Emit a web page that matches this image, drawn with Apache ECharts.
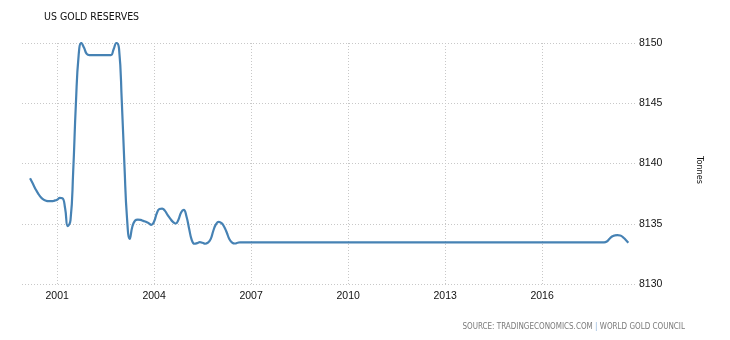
<!DOCTYPE html>
<html><head><meta charset="utf-8">
<script src="https://cdn.jsdelivr.net/npm/echarts@6/dist/echarts.min.js"></script>
<style>html,body{margin:0;padding:0;background:#fff}#c{width:730px;height:340px}</style>
</head><body><div id="c"></div>
<script>
const chartTitle = 'US GOLD RESERVES';
const unitName = 'Tonnes';
const sourceLeft = 'SOURCE: TRADINGECONOMICS.COM';
const sourceRight = 'WORLD GOLD COUNCIL';
const firstMonth = '2000-03';
const lastMonth = '2018-09';
// monthly values, Mar 2000 .. Sep 2018 (one row per year)
const reserves = [
  8138.77, 8138.33, 8137.89, 8137.5, 8137.2, 8137.0, 8136.9, 8136.87, 8136.87, 8136.92,
  8137.0, 8137.14, 8137.12, 8136.29, 8134.8, 8135.3, 8139.3, 8145.0, 8149.0, 8150.0, 8149.6, 8149.1,
  8149.0, 8149.0, 8149.0, 8149.0, 8149.0, 8149.0, 8149.0, 8149.0, 8149.0, 8149.48, 8150.0, 8149.53,
  8145.2, 8139.7, 8135.5, 8133.75, 8134.77, 8135.27, 8135.35, 8135.32, 8135.24, 8135.16, 8135.05, 8134.91,
  8135.18, 8135.87, 8136.23, 8136.26, 8136.09, 8135.74, 8135.43, 8135.16, 8135.02, 8135.32, 8135.93, 8136.15,
  8135.6, 8134.55, 8133.67, 8133.34, 8133.39, 8133.48, 8133.42, 8133.34, 8133.44, 8133.72, 8134.44, 8134.97,
  8135.16, 8135.05, 8134.77, 8134.27, 8133.72, 8133.44, 8133.36, 8133.42, 8133.46, 8133.46, 8133.46, 8133.46,
  8133.46, 8133.46, 8133.46, 8133.46, 8133.46, 8133.46, 8133.46, 8133.46, 8133.46, 8133.46, 8133.46, 8133.46,
  8133.46, 8133.46, 8133.46, 8133.46, 8133.46, 8133.46, 8133.46, 8133.46, 8133.46, 8133.46, 8133.46, 8133.46,
  8133.46, 8133.46, 8133.46, 8133.46, 8133.46, 8133.46, 8133.46, 8133.46, 8133.46, 8133.46, 8133.46, 8133.46,
  8133.46, 8133.46, 8133.46, 8133.46, 8133.46, 8133.46, 8133.46, 8133.46, 8133.46, 8133.46, 8133.46, 8133.46,
  8133.46, 8133.46, 8133.46, 8133.46, 8133.46, 8133.46, 8133.46, 8133.46, 8133.46, 8133.46, 8133.46, 8133.46,
  8133.46, 8133.46, 8133.46, 8133.46, 8133.46, 8133.46, 8133.46, 8133.46, 8133.46, 8133.46, 8133.46, 8133.46,
  8133.46, 8133.46, 8133.46, 8133.46, 8133.46, 8133.46, 8133.46, 8133.46, 8133.46, 8133.46, 8133.46, 8133.46,
  8133.46, 8133.46, 8133.46, 8133.46, 8133.46, 8133.46, 8133.46, 8133.46, 8133.46, 8133.46, 8133.46, 8133.46,
  8133.46, 8133.46, 8133.46, 8133.46, 8133.46, 8133.46, 8133.46, 8133.46, 8133.46, 8133.46, 8133.46, 8133.46,
  8133.46, 8133.46, 8133.46, 8133.46, 8133.46, 8133.46, 8133.46, 8133.46, 8133.46, 8133.46, 8133.46, 8133.46,
  8133.46, 8133.46, 8133.46, 8133.46, 8133.46, 8133.46, 8133.46, 8133.46, 8133.46, 8133.46, 8133.46, 8133.46,
  8133.53, 8133.75, 8133.94, 8134.03, 8134.06, 8134.03, 8133.89, 8133.67, 8133.42
];
const xTickYears = [2001, 2004, 2007, 2010, 2013, 2016];
const yMin = 8130, yMax = 8150, yStep = 5;
const xStart = '1999-12-01', xEnd = '2018-12-08';

const ts = s => Date.parse(s + 'T00:00:00Z');
const dates = [];
{
  let [y, m] = firstMonth.split('-').map(Number);
  const [ey, em] = lastMonth.split('-').map(Number);
  while (y < ey || (y === ey && m <= em)) {
    dates.push(y + '-' + String(m).padStart(2, '0') + '-01');
    m++; if (m > 12) { m = 1; y++; }
  }
}
const seriesData = reserves.map((v, i) => [ts(dates[i]), v]);
const tickTimes = xTickYears.map(y => ts(y + '-01-01'));

const narrow = '"Liberation Sans Narrow", "DejaVu Sans Condensed", Arial, sans-serif';
const chart = echarts.init(document.getElementById('c'), null, {renderer: 'canvas'});
chart.setOption({
  animation: false,
  backgroundColor: '#fff',
  textStyle: {fontFamily: 'Liberation Sans, Arial, sans-serif'},
  title: [{
    text: chartTitle, left: 39, top: 7,
    textStyle: {fontSize: 10.5, fontWeight: 'normal', color: '#111', fontFamily: narrow}
  }, {
    text: '{a|' + sourceLeft + '}{b| | }{a|' + sourceRight + '}',
    right: 40, top: 318,
    textStyle: {fontWeight: 'normal', rich: {
      a: {fontSize: 8, color: '#7a7a7a', fontFamily: narrow, fontWeight: 'normal'},
      b: {fontSize: 8, color: '#8ab0d8', fontFamily: narrow, fontWeight: 'normal'}
    }}
  }],
  grid: {left: 22, right: 93, top: 43, bottom: 56},
  xAxis: {
    type: 'value',
    min: ts(xStart), max: ts(xEnd),
    axisLine: {show: false},
    axisTick: {show: false, customValues: tickTimes},
    axisLabel: {
      customValues: tickTimes,
      formatter: v => String(new Date(v).getUTCFullYear()),
      color: '#111', fontSize: 10.5, margin: 7
    },
    splitLine: {show: true, lineStyle: {color: '#c8c8c8', type: [1, 2], width: 1}}
  },
  yAxis: {
    type: 'value', position: 'right',
    min: yMin, max: yMax, interval: yStep,
    name: unitName, nameLocation: 'middle', nameRotate: -90, nameGap: 58,
    nameTextStyle: {fontSize: 9, color: '#111', fontFamily: narrow, padding: [0, 0, 0, 13]},
    axisLine: {show: false}, axisTick: {show: false},
    axisLabel: {color: '#111', fontSize: 10.5, margin: 2, formatter: v => String(v)},
    splitLine: {show: true, lineStyle: {color: '#c8c8c8', type: [1, 2], width: 1}}
  },
  series: [{
    type: 'line', data: seriesData, smooth: 0.5, showSymbol: false,
    lineStyle: {color: '#4682b4', width: 2.2},
    itemStyle: {color: '#4682b4'}
  }]
});
</script></body></html>
